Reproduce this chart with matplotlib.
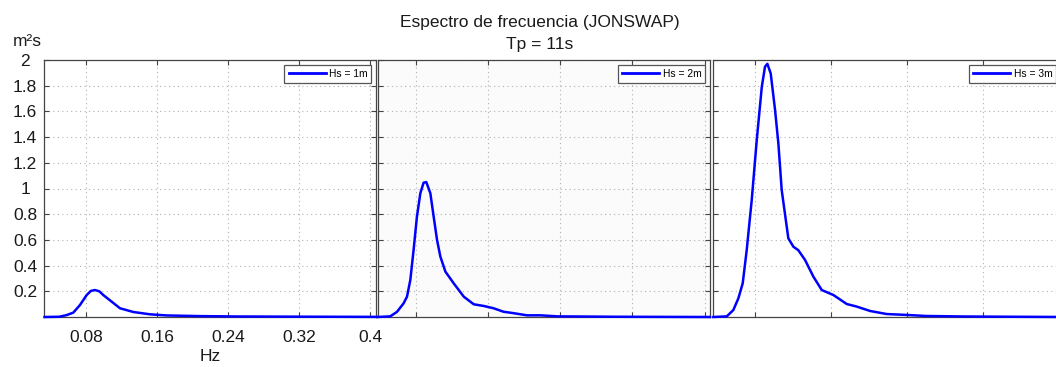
import matplotlib
matplotlib.use('Agg')
import matplotlib.pyplot as plt

plt.rcParams['font.family'] = ['Liberation Sans', 'DejaVu Sans']

# espectros (Tp = 11s)
f_hs1 = [0.0333, 0.05, 0.0583, 0.0657, 0.0732, 0.0808, 0.0855, 0.0901, 0.095, 0.0995,
         0.109, 0.1183, 0.1333, 0.152, 0.171, 0.2085, 0.25, 0.3, 0.35, 0.407]
s_hs1 = [0, 0.002, 0.015, 0.034, 0.093, 0.171, 0.203, 0.21, 0.2, 0.171,
         0.119, 0.068, 0.039, 0.021, 0.012, 0.007, 0.004, 0.003, 0.002, 0.001]

f_hs2 = [0.0373, 0.0514, 0.0589, 0.0662, 0.070, 0.0737, 0.0773, 0.081, 0.0848, 0.0884,
         0.0914, 0.0959, 0.0996, 0.1033, 0.107, 0.1126, 0.1218, 0.133, 0.144, 0.155,
         0.166, 0.177, 0.188, 0.203, 0.218, 0.237, 0.26, 0.3, 0.35, 0.406]
s_hs2 = [0, 0.005, 0.04, 0.106, 0.158, 0.288, 0.52, 0.78, 0.963, 1.045,
         1.05, 0.963, 0.78, 0.6, 0.47, 0.353, 0.262, 0.158, 0.099, 0.086,
         0.068, 0.041, 0.03, 0.013, 0.013, 0.005, 0.004, 0.002, 0.001, 0.0]

f_hs3 = [0.036, 0.0502, 0.0571, 0.0624, 0.067, 0.0712, 0.0765, 0.0818, 0.0871, 0.0905,
         0.093, 0.0965, 0.1011, 0.1046, 0.1081, 0.1134, 0.1151, 0.1204, 0.1256, 0.1327,
         0.1415, 0.1503, 0.1626, 0.1767, 0.1872, 0.2012, 0.2188, 0.24, 0.26, 0.3,
         0.35, 0.41]
s_hs3 = [0, 0.005, 0.054, 0.145, 0.262, 0.52, 0.91, 1.377, 1.79, 1.948,
         1.97, 1.896, 1.611, 1.35, 0.988, 0.703, 0.612, 0.547, 0.52, 0.444,
         0.314, 0.21, 0.171, 0.101, 0.081, 0.047, 0.023, 0.016, 0.008, 0.004,
         0.002, 0.0]

labels = ['Hs = 1m', 'Hs = 2m', 'Hs = 3m']
xticks = [0.08, 0.16, 0.24, 0.32, 0.4]
xticklabels = ['0.08', '0.16', '0.24', '0.32', '0.4']
yticks = [0.2, 0.4, 0.6, 0.8, 1.0, 1.2, 1.4, 1.6, 1.8, 2.0]
yticklabels = ['0.2', '0.4', '0.6', '0.8', '1', '1.2', '1.4', '1.6', '1.8', '2']

W, H = 1056, 367
fig = plt.figure(figsize=(W / 100, H / 100), dpi=100)

# posiciones de cada panel en pixeles (izq, der)
boxes = [(44, 376), (377.5, 710), (713.3, 1061)]
xlims = [(0.0327, 0.4068), (0.0373, 0.406), (0.036, 0.4025)]
faces = ['white', '#fbfbfb', 'white']
series = [(f_hs1, s_hs1), (f_hs2, s_hs2), (f_hs3, s_hs3)]
top, bottom = 60, 317

for i in range(3):
    l, r = boxes[i]
    ax = fig.add_axes([l / W, 1 - bottom / H, (r - l) / W, (bottom - top) / H])
    ax.set_facecolor(faces[i])
    f, s = series[i]
    ax.plot(f, s, color='#0000ff', lw=1.8, label=labels[i], clip_on=False, zorder=3)
    ax.set_xlim(xlims[i])
    ax.set_ylim(0, 2)
    ax.set_xticks(xticks)
    ax.set_yticks(yticks)
    ax.grid(True, linestyle=(0, (1, 3)), color='#b0b0b0', linewidth=0.8)
    ax.tick_params(direction='in', length=3.5, width=0.8, color='#444444',
                   top=True, right=True, labelsize=12.5, labelcolor='#1a1a1a')
    for sp in ax.spines.values():
        sp.set_color('#444444')
        sp.set_linewidth(0.9)
    if i == 0:
        ax.set_xticklabels(xticklabels)
        ax.set_yticklabels(yticklabels)
        ax.tick_params(axis='y', pad=13.5)
        ax.tick_params(axis='x', pad=9.5)
        for t in ax.get_yticklabels():
            t.set_ha('center')
        ax.set_xlabel('Hz', fontsize=12.5, color='#1a1a1a', labelpad=3)
    else:
        ax.set_xticklabels([])
        ax.set_yticklabels([])
    leg = ax.legend(loc='upper right', fontsize=7.4, handlelength=3.6, fancybox=False,
                    framealpha=1, borderpad=0.4, borderaxespad=0.45, handletextpad=0.3)
    leg.get_frame().set_edgecolor('#555555')
    leg.get_frame().set_linewidth(0.9)
    for ln in leg.get_lines():
        ln.set_linewidth(2.0)

fig.text(27 / W, 1 - 42 / H, 'm²s', fontsize=12.5, ha='center', va='center', color='#1a1a1a')
fig.text(540 / W, 1 - 23 / H, 'Espectro de frecuencia (JONSWAP)', fontsize=12.5,
         ha='center', va='center', color='#1a1a1a')
fig.text(540 / W, 1 - 44 / H, 'Tp = 11s', fontsize=12.5, ha='center', va='center',
         color='#1a1a1a')

fig.savefig('out.png', dpi=100)
